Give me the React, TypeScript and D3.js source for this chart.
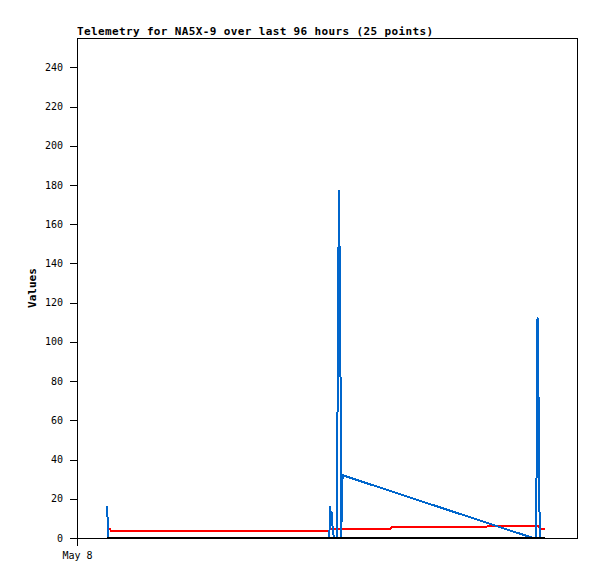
import React from "react";
import * as d3 from "d3";

const TITLE = "Telemetry for NA5X-9 over last 96 hours (25 points)";
const Y_LABEL = "Values";
const START = new Date(2024, 4, 8, 0, 0, 0);
const SPAN_HOURS = 96;

const yTicks = [0, 20, 40, 60, 80, 100, 120, 140, 160, 180, 200, 220, 240];
const xTickHours = [0];
const xTickLabels = ["May 8"];

// series 1 (blue)
const blueHours = [
  5.76, 5.9, 6.05, 48.45, 48.58, 48.77, 48.92, 49.1, 49.34, 49.88, 49.98,
  50.15, 50.32, 50.45, 50.6, 50.72, 50.86, 51.0, 87.55, 88.18, 88.27, 88.42,
  88.58, 88.72, 88.88,
];
const blueValues = [
  16.5, 8, 0, 0, 16, 11, 13, 4, 0, 0, 44, 132, 177, 133, 80, 0, 17, 32, 0, 0,
  56, 112, 84, 28, 0,
];

// series 2 (red)
const redHours = [
  5.76, 6.3, 6.5, 48.4, 48.6, 60.2, 60.4, 78.6, 78.8, 88.65, 88.85, 89.86,
];
const redValues = [4.6, 4.6, 3.7, 3.7, 4.6, 4.6, 5.6, 5.6, 6.1, 6.1, 4.7, 4.7];

// series 3 (black)
const blackHours = [5.76, 89.86];
const blackValues = [0, 0];

const W = 597;
const H = 579;
const M = { left: 77, top: 38, right: 20, bottom: 41 };

const hoursToDate = (h: number) => new Date(START.getTime() + h * 3600 * 1000);

export default function App() {
  const x = d3
    .scaleTime()
    .domain([START, hoursToDate(SPAN_HOURS)])
    .range([M.left, W - M.right]);
  const y = d3.scaleLinear().domain([0, 255]).range([H - M.bottom, M.top]);

  const mk = (hs: number[], vs: number[]) =>
    hs.map((h, i) => ({ d: hoursToDate(h), v: vs[i] }));

  const line = d3
    .line<{ d: Date; v: number }>()
    .x((p) => x(p.d))
    .y((p) => y(p.v));

  const mono = "'DejaVu Sans Mono', 'Liberation Mono', monospace";
  const x0 = M.left;
  const x1 = W - M.right;
  const y0 = H - M.bottom;
  const y1 = M.top;

  return (
    <svg
      width={W}
      height={H}
      style={{ position: "absolute", left: 0, top: 0, background: "#fff" }}
    >
      <rect x={0} y={0} width={W} height={H} fill="#fff" />
      <text
        x={x0}
        y={34.5}
        fontFamily={mono}
        fontWeight="bold"
        fontSize={11}
        textLength={356}
        lengthAdjust="spacing"
        fill="#000"
      >
        {TITLE}
      </text>

      {/* series */}
      <path
        d={line(mk(redHours, redValues)) || ""}
        fill="none"
        stroke="#ff0000"
        strokeWidth={2}
        strokeLinejoin="round"
        shapeRendering="crispEdges"
      />
      <path
        d={line(mk(blueHours, blueValues)) || ""}
        fill="none"
        stroke="#0066cc"
        strokeWidth={2}
        strokeLinejoin="round"
        shapeRendering="crispEdges"
      />
      <path
        d={line(mk(blackHours, blackValues)) || ""}
        fill="none"
        stroke="#000"
        strokeWidth={2}
        shapeRendering="crispEdges"
      />

      {/* frame */}
      <rect
        x={x0 + 0.5}
        y={y1 + 0.5}
        width={x1 - x0}
        height={y0 - y1}
        fill="none"
        stroke="#000"
        strokeWidth={1}
      />

      {/* y axis ticks */}
      {yTicks.map((t) => (
        <g key={t}>
          <line
            x1={x0 - 7}
            x2={x0}
            y1={Math.round(y(t)) + 0.5}
            y2={Math.round(y(t)) + 0.5}
            stroke="#000"
          />
          <text
            x={63}
            y={y(t) + 3.5}
            textAnchor="end"
            fontFamily={mono}
            fontSize={10}
            fill="#000"
          >
            {t}
          </text>
        </g>
      ))}

      {/* x axis ticks */}
      {xTickHours.map((h, i) => {
        const px = Math.round(x(hoursToDate(h))) + 0.5;
        return (
          <g key={h}>
            <line x1={px} x2={px} y1={y0} y2={y0 + 8} stroke="#000" />
            <text
              x={px}
              y={559}
              textAnchor="middle"
              fontFamily={mono}
              fontSize={10}
              fill="#000"
            >
              {xTickLabels[i]}
            </text>
          </g>
        );
      })}

      <text
        transform={`translate(36, ${(y0 + y1) / 2}) rotate(-90)`}
        textAnchor="middle"
        fontFamily={mono}
        fontWeight="bold"
        fontSize={11}
        fill="#000"
      >
        {Y_LABEL}
      </text>
    </svg>
  );
}
